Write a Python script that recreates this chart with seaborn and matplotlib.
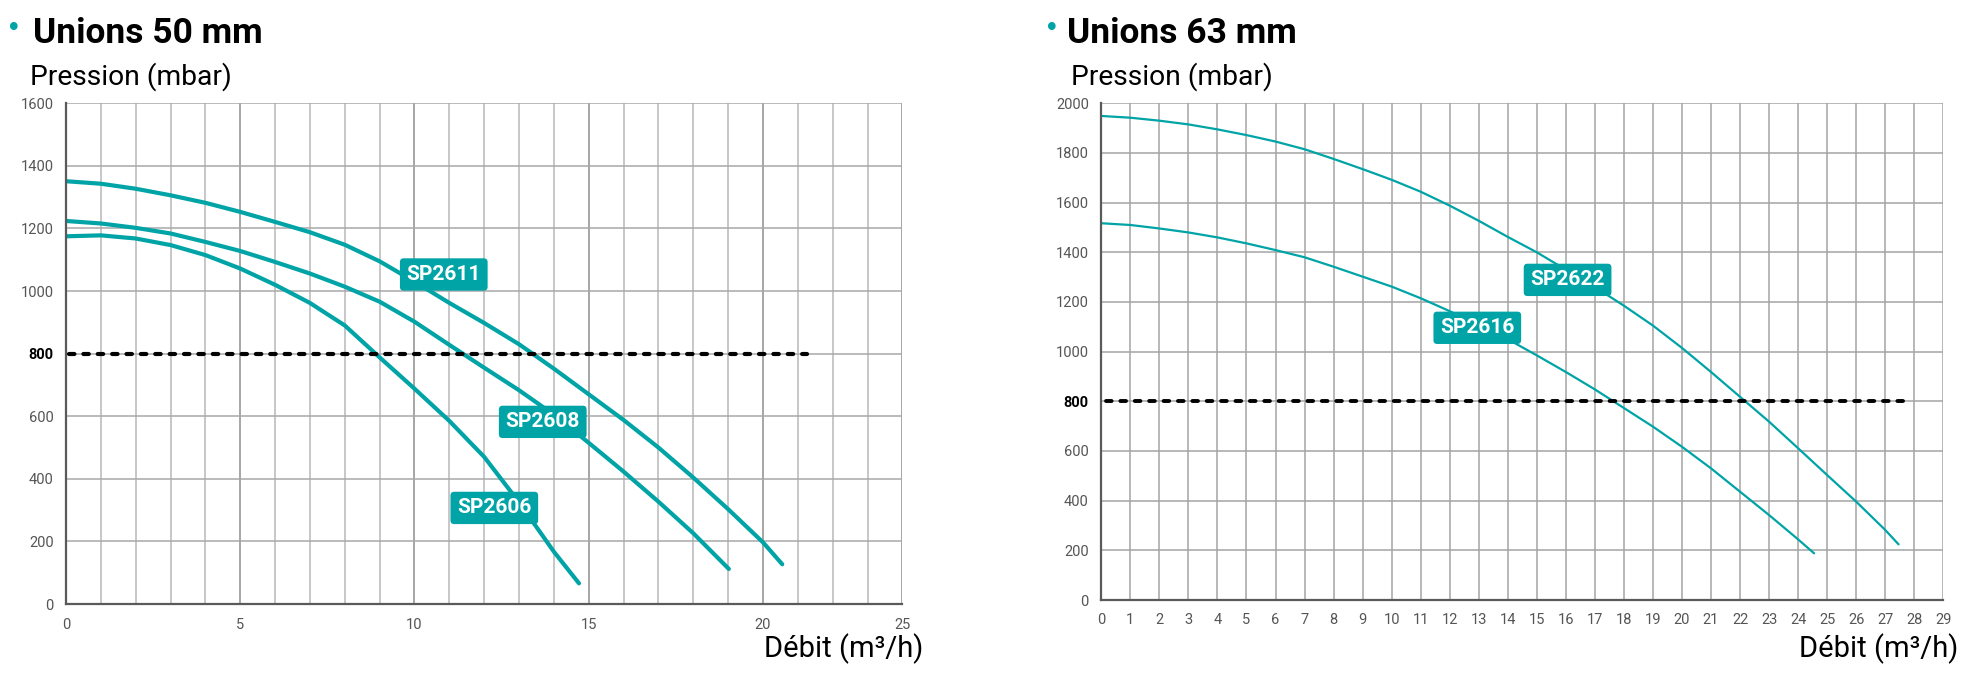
import numpy as np
import pandas as pd
import matplotlib
matplotlib.use("Agg")
import matplotlib.pyplot as plt
from matplotlib.ticker import FixedLocator, MultipleLocator
import seaborn as sns

# ---------------- data ----------------
title_50 = "Unions 50 mm"
title_63 = "Unions 63 mm"
y_title = "Pression (mbar)"
x_title = "Débit (m³/h)"

# Unions 50 mm
sp2611_debit = [0, 1, 2, 3, 4, 5, 6, 7, 8, 9, 10, 11, 12, 13, 14, 15, 16, 17, 18, 19, 20, 20.69]
sp2611_pression = [1351, 1343, 1327, 1306, 1282, 1253, 1221, 1188, 1148, 1095, 1030, 962, 898, 830, 752,
                   670, 588, 500, 404, 303, 197, 127]
sp2608_debit = [0, 1, 2, 3, 4, 5, 6, 7, 8, 9, 10, 11, 12, 13, 14, 15, 16, 17, 18, 19.02]
sp2608_pression = [1224, 1216, 1202, 1184, 1157, 1128, 1093, 1056, 1014, 966, 902, 828, 755, 683, 605,
                   515, 423, 327, 226, 112]
sp2606_debit = [0, 1, 2, 3, 4, 5, 6, 7, 8, 9, 10, 11, 12, 13, 14, 14.72]
sp2606_pression = [1175, 1178, 1168, 1147, 1115, 1072, 1020, 962, 890, 788, 688, 585, 470, 325, 167, 66]

# Unions 63 mm
sp2622_debit = list(range(0, 28)) + [27.46]
sp2622_pression = [1949, 1942, 1930, 1915, 1895, 1872, 1846, 1815, 1776, 1735, 1692, 1644, 1588, 1527,
                   1462, 1400, 1330, 1260, 1185, 1105, 1015, 918, 818, 718, 611, 503, 396, 282, 224]
sp2616_debit = list(range(0, 25)) + [24.55]
sp2616_pression = [1517, 1510, 1496, 1480, 1460, 1436, 1409, 1380, 1342, 1302, 1262, 1215, 1163, 1107,
                   1050, 985, 918, 848, 773, 698, 617, 530, 436, 342, 244, 188]

ref_pression = 800
ref_end_50 = 21.58
ref_end_63 = 27.85

labels_50 = ["SP2611", "SP2608", "SP2606"]
labels_50_x = [10.84, 13.68, 12.29]
labels_50_y = [1053, 582, 307]
labels_63 = ["SP2622", "SP2616"]
labels_63_x = [16.06, 12.95]
labels_63_y = [1289, 1096]

xticks_50 = [0, 5, 10, 15, 20, 25]
yticks_50 = list(range(0, 1601, 200))
xticks_63 = list(range(0, 30))
yticks_63 = list(range(0, 2001, 200))

# ---------------- style ----------------
TEAL = "#00a4a6"
sns.set_style("white")
plt.rcParams["font.family"] = ["Roboto", "DejaVu Sans"]

fig = plt.figure(figsize=(19.7, 6.78), dpi=100)
W, H = 1970, 678
ax1 = fig.add_axes([66 / W, 1 - 604 / H, 836.4 / W, 500.7 / H])
ax2 = fig.add_axes([1101.3 / W, 1 - 600 / H, 842 / W, 496.7 / H])

df50 = pd.concat([
    pd.DataFrame({"debit": sp2611_debit, "pression": sp2611_pression, "modele": "SP2611"}),
    pd.DataFrame({"debit": sp2608_debit, "pression": sp2608_pression, "modele": "SP2608"}),
    pd.DataFrame({"debit": sp2606_debit, "pression": sp2606_pression, "modele": "SP2606"}),
])
df63 = pd.concat([
    pd.DataFrame({"debit": sp2622_debit, "pression": sp2622_pression, "modele": "SP2622"}),
    pd.DataFrame({"debit": sp2616_debit, "pression": sp2616_pression, "modele": "SP2616"}),
])

sns.lineplot(data=df50, x="debit", y="pression", hue="modele", palette=[TEAL] * 3,
             estimator=None, sort=False, linewidth=3.0, legend=False, ax=ax1, zorder=3)
sns.lineplot(data=df63, x="debit", y="pression", hue="modele", palette=[TEAL] * 2,
             estimator=None, sort=False, linewidth=1.6, legend=False, ax=ax2, zorder=3)
for ax in (ax1, ax2):
    for ln in ax.get_lines():
        ln.set_solid_joinstyle("round")
        ln.set_solid_capstyle("round")

# the 50 mm chart has a compressed last section (20 -> 25 spans 4 grid cells)
def fwd(x):
    x = np.asarray(x, dtype=float)
    return np.where(x <= 20, x, 20 + (x - 20) * 0.8)

def inv(u):
    u = np.asarray(u, dtype=float)
    return np.where(u <= 20, u, 20 + (u - 20) / 0.8)

ax1.set_xscale("function", functions=(fwd, inv))

# reference lines at 800 mbar
ax1.hlines(ref_pression, 0.1, ref_end_50, colors="black", linewidth=3.0,
           linestyles=(0, (1.3, 2.15)), zorder=5)
ax2.hlines(ref_pression, 0.15, ref_end_63, colors="black", linewidth=2.8,
           linestyles=(0, (1.45, 2.25)), zorder=5)
for coll in ax1.collections + ax2.collections:
    coll.set_capstyle("round")

# ---------------- axes 50 mm ----------------
ax1.set_xlim(0, 25)
ax1.set_ylim(0, 1600)
ax1.xaxis.set_major_locator(FixedLocator(xticks_50))
ax1.set_xticklabels([str(v) for v in xticks_50])
ax1.xaxis.set_minor_locator(FixedLocator(list(inv(np.arange(0, 25)))))
ax1.yaxis.set_major_locator(FixedLocator(yticks_50))
ax1.set_yticklabels([str(v) for v in yticks_50])
ax1.grid(which="major", axis="x", color="#8e8e8e", linewidth=1.1, zorder=0)
ax1.grid(which="minor", axis="x", color="#b8b8b8", linewidth=1.1, zorder=0)
ax1.grid(which="major", axis="y", color="#a8a8a8", linewidth=1.1, zorder=0)
ax1.tick_params(which="major", direction="out", length=4, width=1, color="#777777",
                labelsize=10.5, labelcolor="#555555")
ax1.tick_params(axis="y", pad=5)
ax1.tick_params(axis="x", pad=6)
ax1.tick_params(which="minor", length=0)

# ---------------- axes 63 mm ----------------
ax2.set_xlim(0, 29)
ax2.set_ylim(0, 2000)
ax2.xaxis.set_major_locator(FixedLocator(xticks_63))
ax2.set_xticklabels([str(v) for v in xticks_63])
ax2.xaxis.set_minor_locator(MultipleLocator(0.5))
ax2.yaxis.set_major_locator(FixedLocator(yticks_63))
ax2.set_yticklabels([str(v) for v in yticks_63])
ax2.yaxis.set_minor_locator(MultipleLocator(100))
ax2.grid(which="major", axis="both", color="#a4a4a4", linewidth=1.1, zorder=0)
ax2.tick_params(which="major", direction="inout", length=10, width=1, color="#555555",
                labelsize=10.5, labelcolor="#555555")
ax2.tick_params(which="minor", direction="inout", length=7, width=1, color="#555555")
ax2.tick_params(axis="y", pad=4)
ax2.tick_params(axis="x", pad=4)

for ax in (ax1, ax2):
    ax.set_xlabel("")
    ax.set_ylabel("")
    for side in ("top", "right"):
        ax.spines[side].set_visible(False)
    for side in ("left", "bottom"):
        ax.spines[side].set_color("#5a5a5a")
        ax.spines[side].set_linewidth(1.6)
        ax.spines[side].set_zorder(4)
    for lab in ax.get_yticklabels():
        if lab.get_text() == str(ref_pression):
            lab.set_fontweight("bold")
            lab.set_color("black")

# ---------------- curve labels ----------------
box = dict(boxstyle="round,pad=0.32,rounding_size=0.18", fc=TEAL, ec="none")
for name, x, y in zip(labels_50, labels_50_x, labels_50_y):
    ax1.text(x, y, name, ha="center", va="center", color="white", fontsize=15,
             fontweight="bold", bbox=box, zorder=6)
for name, x, y in zip(labels_63, labels_63_x, labels_63_y):
    ax2.text(x, y, name, ha="center", va="center", color="white", fontsize=15,
             fontweight="bold", bbox=box, zorder=6)

# ---------------- titles & axis titles ----------------
for bx, tx, title in ((14, 33, title_50), (1051.7, 1067.3, title_63)):
    fig.text(bx / W, 1 - 29.5 / H, "•", color=TEAL, fontsize=19, ha="center", va="center",
             family=["DejaVu Sans"])
    fig.text(tx / W, 1 - 43 / H, title, fontsize=25.5, fontweight="bold", va="baseline",
             color="black")
for px in (30, 1070.7):
    fig.text(px / W, 1 - 85 / H, y_title, fontsize=20.3, va="baseline", color="black")
for rx in (923, 1958):
    fig.text(rx / W, 1 - 657 / H, x_title, fontsize=21, va="baseline", ha="right", color="black")

fig.savefig("out.png", dpi=100)
